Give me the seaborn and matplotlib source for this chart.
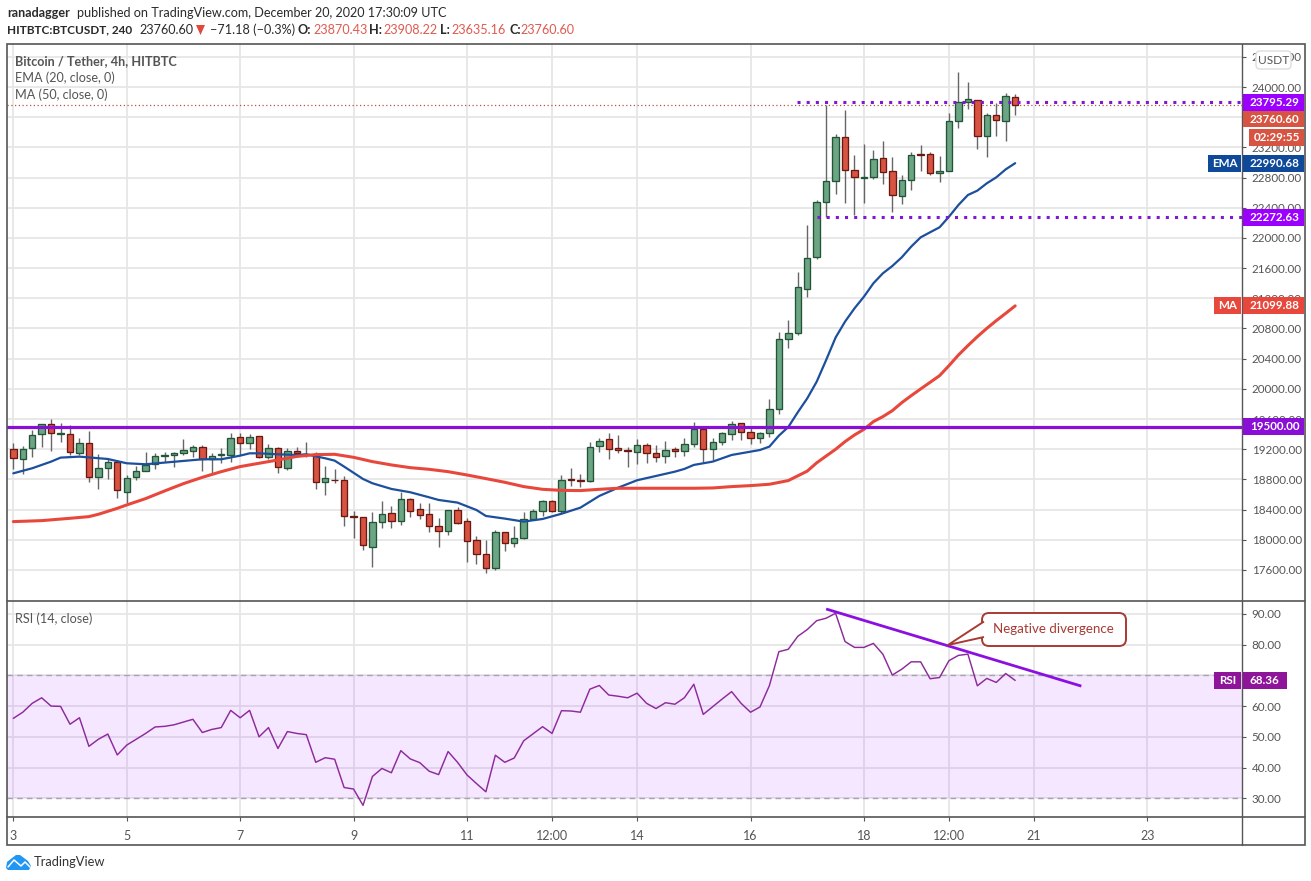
import matplotlib
matplotlib.use('Agg')
import matplotlib.pyplot as plt
from matplotlib.patches import Rectangle, FancyBboxPatch, Polygon
import pandas as pd
import seaborn as sns

# 4h candles, Dec 3 00:00 to Dec 20 16:00
opens = [19199, 19067, 19213, 19398, 19531, 19407, 19398, 19146, 19279, 18828, 18948, 19027, 18638, 18828, 18908,
         19009, 19107, 19120, 19146, 19173, 19226, 19076, 19120, 19120, 19358, 19279, 19372, 19093, 19213, 18948,
         19173, 19142, 19133, 18762, 18797, 18789, 18311, 18298, 17910, 18241, 18351, 18254, 18537, 18404, 18338,
         18179, 18122, 18395, 18245, 17993, 17808, 17631, 18100, 17963, 18029, 18272, 18378, 18510, 18387, 18802,
         18793, 18780, 19239, 19332, 19213, 19186, 19160, 19252, 19146, 19107, 19199, 19173, 19266, 19464, 19199,
         19292, 19398, 19544, 19425, 19345, 19411, 19729, 20656, 20736, 21319, 21743, 22472, 22750, 23333, 22896,
         22799, 22803, 23055, 22883, 22551, 22763, 23108, 23108, 22856, 22883, 23545, 23797, 23824, 23347, 23625,
         23545, 23870.43]
highs = [19288, 19243, 19455, 19535, 19597, 19544, 19522, 19354, 19442, 19133, 19067, 19027, 18859, 18978, 19168,
         19146, 19168, 19168, 19336, 19252, 19252, 19146, 19213, 19411, 19420, 19398, 19372, 19270, 19235, 19213,
         19235, 19292, 19160, 18978, 18934, 18846, 18382, 18298, 18369, 18515, 18448, 18630, 18550, 18484, 18488,
         18285, 18395, 18431, 18285, 18046, 17998, 18130, 18100, 18183, 18369, 18409, 18528, 18528, 18859, 18948,
         18872, 19296, 19349, 19420, 19389, 19226, 19332, 19279, 19257, 19310, 19226, 19349, 19562, 19491, 19349,
         19429, 19575, 19544, 19491, 19433, 19866, 20753, 20912, 21544, 22172, 22503, 23762, 23377, 23695, 23099,
         23245, 23165, 23285, 23068, 22834, 23139, 23232, 23139, 23086, 23660, 24195, 24066, 23832, 23651, 23784,
         23921, 23908.22]
lows = [18934, 18872, 19102, 19235, 19182, 19301, 19124, 19124, 18771, 18678, 18811, 18559, 18484, 18793, 18908,
        18934, 19036, 18970, 19124, 19093, 18917, 18872, 19014, 19036, 19124, 19204, 19080, 19071, 18890, 18930,
        19102, 19093, 18674, 18599, 18749, 18183, 18029, 17865, 17645, 18161, 18161, 18197, 18303, 18281, 18108,
        17910, 18064, 18210, 17711, 17680, 17565, 17600, 17852, 17910, 18016, 18263, 18316, 18373, 18351, 18713,
        18700, 18771, 19168, 19071, 19155, 18970, 19001, 19023, 19031, 19023, 19102, 19115, 19235, 19031, 19058,
        19252, 19327, 19323, 19274, 19279, 19366, 19671, 20546, 20718, 21222, 21717, 22282, 22582, 22468, 22304,
        22468, 22777, 22715, 22348, 22454, 22635, 22892, 22830, 22746, 22883, 23461, 23713, 23183, 23077, 23351,
        23289, 23635.16]
closes = [19080, 19199, 19385, 19531, 19411, 19416, 19160, 19279, 18828, 18948, 19027, 18656, 18815, 18908, 18996,
          19107, 19120, 19146, 19186, 19226, 19076, 19107, 19133, 19345, 19279, 19367, 19093, 19213, 18961, 19173,
          19146, 19133, 18762, 18815, 18789, 18320, 18298, 17927, 18232, 18338, 18254, 18537, 18387, 18334, 18188,
          18122, 18395, 18228, 17989, 17817, 17631, 18100, 17963, 18020, 18272, 18378, 18510, 18387, 18789, 18789,
          18775, 19226, 19305, 19199, 19186, 19173, 19252, 19146, 19093, 19186, 19173, 19266, 19464, 19199, 19292,
          19416, 19539, 19425, 19345, 19411, 19729, 20656, 20736, 21345, 21730, 22472, 22750, 23333, 22896, 22803,
          22808, 23042, 22878, 22565, 22763, 23095, 23095, 22856, 22883, 23545, 23797, 23837, 23347, 23625, 23559,
          23877, 23760.60]

ema_idx = [0, 2, 4, 5, 7, 10, 12, 14, 16, 18, 20, 22, 24, 25, 26, 28, 30, 31, 33, 34, 35, 37, 38, 40, 42, 44, 45,
           47, 49, 50, 52, 54, 56, 58, 60, 62, 64, 66, 68, 70, 71, 72, 74, 76, 78, 79, 80, 81, 82, 83, 84, 85, 86,
           87, 88, 89, 90, 91, 92, 93, 94, 95, 96, 97, 98, 99, 100, 101, 102, 103, 104, 105, 106]
ema_val = [18881, 18948, 19036, 19089, 19102, 19071, 19014, 19001, 19023, 19045, 19067, 19067, 19115, 19146, 19146,
           19133, 19124, 19133, 19080, 19049, 18970, 18806, 18749, 18674, 18630, 18563, 18528, 18493, 18395, 18316,
           18281, 18241, 18276, 18345, 18426, 18581, 18691, 18789, 18846, 18903, 18939, 18992, 19036, 19124, 19168,
           19190, 19235, 19380, 19495, 19690, 19874, 20095, 20382, 20680, 20891, 21067, 21222, 21399, 21531, 21628,
           21743, 21885, 22008, 22075, 22141, 22282, 22437, 22569, 22627, 22724, 22803, 22909, 22990.68]

ma_idx = [0, 3, 6, 8, 9, 11, 12, 14, 16, 18, 20, 22, 24, 26, 28, 30, 32, 34, 36, 38, 40, 42, 44, 46, 48, 50, 52, 54,
          56, 58, 60, 62, 64, 68, 72, 74, 76, 78, 80, 82, 84, 85, 86, 87, 88, 89, 90, 91, 92, 93, 94, 95, 96, 97, 98,
          99, 100, 101, 102, 103, 104, 105, 106]
ma_val = [18241, 18254, 18285, 18307, 18338, 18417, 18462, 18546, 18647, 18744, 18828, 18903, 18970, 19014, 19058,
          19105, 19129, 19133, 19093, 19036, 18992, 18956, 18934, 18903, 18859, 18811, 18762, 18705, 18669, 18655,
          18652, 18669, 18683, 18683, 18683, 18687, 18705, 18718, 18736, 18785, 18910, 19020, 19110, 19199, 19301,
          19389, 19464, 19566, 19632, 19711, 19817, 19910, 19999, 20087, 20175, 20308, 20449, 20573, 20692, 20802,
          20904, 21001, 21099.88]

rsi = [56.0, 58.0, 60.9, 62.7, 60.0, 59.9, 54.1, 56.2, 46.9, 49.2, 50.9, 44.1, 47.3, 49.2, 51.1, 53.2, 53.4, 53.9,
       54.8, 55.7, 51.4, 52.4, 53.0, 58.6, 56.2, 58.6, 50.0, 53.0, 46.2, 51.7, 51.1, 50.7, 41.7, 43.2, 42.7, 33.5,
       33.0, 27.7, 37.1, 39.7, 38.3, 45.5, 42.8, 41.6, 38.8, 37.7, 45.2, 41.7, 37.6, 34.8, 32.1, 44.0, 41.7, 43.1,
       48.7, 51.0, 53.3, 51.1, 58.5, 58.4, 58.0, 65.5, 66.7, 63.6, 63.2, 62.7, 64.2, 60.9, 59.2, 61.1, 60.6, 62.7,
       67.1, 57.3, 59.8, 62.3, 64.7, 60.9, 58.0, 59.7, 66.7, 77.7, 78.5, 82.7, 84.9, 87.8, 88.6, 90.2, 81.0, 79.1,
       79.1, 80.4, 76.9, 70.1, 72.0, 74.4, 74.4, 68.9, 69.3, 74.8, 76.5, 76.9, 66.6, 69.0, 67.7, 70.6, 68.36]

time_ticks = [0, 12, 24, 36, 48, 57, 66, 78, 90, 99, 108, 120]
time_labels = ['3', '5', '7', '9', '11', '12:00', '14', '16', '18', '12:00', '21', '23']
price_ticks = list(range(17600, 24401, 400))
rsi_ticks = [30, 40, 50, 60, 70, 80, 90]

support = 19500.00
level_high = 23795.29
level_low = 22272.63
trend_idx = [86, 113]
trend_rsi = [91.6, 66.5]

GREEN, GREEN_EDGE = '#6ba583', '#225437'
RED, RED_EDGE = '#d75442', '#6b1810'
TEXT = '#555555'
PURPLE = '#8a0fd6'
W, H = 1311, 881

sns.set_theme(style='white')
plt.rcParams['font.family'] = ['Lato', 'DejaVu Sans']

fig = plt.figure(figsize=(W / 100, H / 100), dpi=100)
ax = fig.add_axes([7 / W, 1 - 601 / H, 1235 / W, 557 / H])
ax2 = fig.add_axes([7 / W, 1 - 817 / H, 1235 / W, 216 / H], sharex=ax)

candles = pd.DataFrame({'o': opens, 'h': highs, 'l': lows, 'c': closes})
candles['i'] = candles.index
up = candles['c'] >= candles['o']

ax.vlines(candles['i'], candles['l'], candles['h'], color='#666666', lw=1, zorder=2)
ax.bar(candles['i'], (candles['c'] - candles['o']).abs(), bottom=candles[['o', 'c']].min(axis=1), width=0.68,
       color=[GREEN if u else RED for u in up], edgecolor=[GREEN_EDGE if u else RED_EDGE for u in up],
       linewidth=0.95, zorder=3)

ema = pd.DataFrame({'i': ema_idx, 'v': ema_val})
ma = pd.DataFrame({'i': ma_idx, 'v': ma_val})
sns.lineplot(data=ema, x='i', y='v', ax=ax, color='#1c4f9c', lw=1.6, estimator=None, zorder=4)
sns.lineplot(data=ma, x='i', y='v', ax=ax, color='#e8483c', lw=2.2, estimator=None, zorder=4)

ax.axhline(support, color=PURPLE, lw=2.3, zorder=5)
ax.axhline(closes[-1], color='#b5553f', lw=0.9, ls=(0, (1, 2)), zorder=1)
for start, level in [(82.9, level_high), (85, level_low)]:
    ax.hlines(level, start, 130, color='#7e18d6', lw=2.2, ls=(0, (1, 2)), zorder=6)

ax.set_xlim(-0.667, 130)
ax.set_ylim(17189, 24570)
ax.set_yticks(price_ticks)
ax.set_yticklabels([f'{p:.2f}' for p in price_ticks])

rsi_df = pd.DataFrame({'i': range(len(rsi)), 'v': rsi})
ax2.axhspan(30, 70, color='#9915ff', alpha=0.1, lw=0, zorder=1)
for lvl in [30, 70]:
    ax2.axhline(lvl, color='#aaa2ae', lw=1, ls=(0, (4, 3)), zorder=2)
sns.lineplot(data=rsi_df, x='i', y='v', ax=ax2, color='#8e2a9c', lw=1.05, estimator=None, zorder=4)
ax2.plot(trend_idx, trend_rsi, color='#8a0fe0', lw=2.0, zorder=5, solid_capstyle='butt')
ax2.set_ylim(23.9, 94.2)
ax2.set_yticks(rsi_ticks)
ax2.set_yticklabels([f'{r:.2f}' for r in rsi_ticks])
ax2.set_xticks(time_ticks)
ax2.set_xticklabels(time_labels)

for a in (ax, ax2):
    a.set_xlabel('')
    a.set_ylabel('')
    a.grid(True, color='#e6e6e6', lw=1.3, zorder=0)
    a.set_axisbelow(True)
    a.yaxis.tick_right()
    a.tick_params(axis='y', right=True, length=3, width=0.8, color=TEXT, labelcolor=TEXT, labelsize=8.4, pad=4)
    for s in a.spines.values():
        s.set_visible(False)
ax.tick_params(axis='x', bottom=False, labelbottom=False)
ax2.tick_params(axis='x', bottom=True, length=3, width=0.8, color=TEXT, labelcolor=TEXT, labelsize=9, pad=6)

# overlay in pixel coordinates for frame, tags and header text
ov = fig.add_axes([0, 0, 1, 1], zorder=10)
ov.set_xlim(0, W)
ov.set_ylim(H, 0)
ov.axis('off')
ov.patch.set_alpha(0)

ov.add_patch(Rectangle((6.5, 43.5), 1298, 801, fill=False, ec='#555555', lw=1.2))
ov.plot([6.5, 1304.5], [601, 601], color='#555555', lw=1.2)
ov.plot([6.5, 1304.5], [817, 817], color='#555555', lw=1.2)
ov.plot([1242, 1242], [43.5, 844.5], color='#555555', lw=1.0)


def y_px(axis, value):
    return H - axis.transData.transform((0, value))[1]


def tag(axis, value, color, label=None, x0=1243, x1=1304, shift=0):
    y = y_px(axis, value) + shift
    ov.add_patch(Rectangle((x0, y - 8.4), x1 - x0, 16.8, fc=color, ec='none', zorder=5))
    ov.text(1250, y, f'{value:.2f}', color='white', fontsize=8.4, fontweight='bold', ha='left', va='center', zorder=6)
    if label:
        wid = 33 if label == 'EMA' else 27
        ov.add_patch(Rectangle((1241 - wid, y - 8.4), wid, 16.8, fc=color, ec='none', zorder=5))
        ov.text(1241 - wid / 2, y, label, color='white', fontsize=8.4, fontweight='bold',
                ha='center', va='center', zorder=6)


tag(ax, level_high, '#9b00ff')
# last price tag sits pushed down under the level tag
tag(ax, closes[-1], RED, shift=14)
ov.add_patch(Rectangle((1249, 129), 55, 17, fc=RED, ec='none', zorder=5))
ov.text(1276.5, 137.5, '02:29:55', color='white', fontsize=8.4, fontweight='bold',
        ha='center', va='center', zorder=6)
tag(ax, ema_val[-1], '#0f4a9a', 'EMA')
tag(ax, level_low, '#9b00ff')
tag(ax, ma_val[-1], '#e8483c', 'MA')
tag(ax, support, PURPLE)
tag(ax2, rsi[-1], '#8e1599', 'RSI', x1=1287)

ov.add_patch(FancyBboxPatch((1258, 53), 31, 14, boxstyle='round,pad=2,rounding_size=4', fc='white', ec='#dddddd',
                            lw=1, zorder=7))
ov.text(1273.5, 60, 'USDT', color=TEXT, fontsize=8.6, ha='center', va='center', zorder=8)

# header
ink = '#2a2a2a'
RED_TXT = '#e05a50'
FS = 9.1
ov.text(7, 13, 'ranadagger', color=ink, fontsize=FS, fontweight='bold', va='center')
ov.text(77, 13, 'published on TradingView.com, December 20, 2020 17:30:09 UTC', color=ink, fontsize=FS, va='center')
ov.text(7, 30, 'HITBTC:BTCUSDT, 240', color=ink, fontsize=8.5, fontweight='bold', va='center')
ov.text(139.5, 30, '23760.60', color=ink, fontsize=FS, va='center')
ov.add_patch(Polygon([(196, 25), (205, 25), (200.5, 35)], fc='#e0483c', ec='none'))
ov.text(209.5, 30, '\u221271.18 (\u22120.3%)', color=ink, fontsize=FS, va='center')
for x_lab, lab, x_val, val in [(298, 'O:', 313, '23870.43'), (369.5, 'H:', 383.5, '23908.22'),
                               (440, 'L:', 451, '23635.16'), (509, 'C:', 520, '23760.60')]:
    ov.text(x_lab, 30, lab, color=ink, fontsize=FS, fontweight='bold', va='center')
    ov.text(x_val, 30, val, color=RED_TXT, fontsize=FS, va='center')

ov.text(15, 61, 'Bitcoin / Tether, 4h, HITBTC', color=TEXT, fontsize=FS, fontweight='bold', va='center')
ov.text(15, 78, 'EMA (20, close, 0)', color=TEXT, fontsize=FS, va='center')
ov.text(15, 95, 'MA (50, close, 0)', color=TEXT, fontsize=FS, va='center')
ov.text(15, 619, 'RSI (14, close)', color=TEXT, fontsize=FS, va='center')

# callout
brown = '#a83a34'
ov.add_patch(FancyBboxPatch((986, 617), 136, 25, boxstyle='round,pad=4,rounding_size=7', fc='white', ec=brown,
                            lw=1.4, zorder=6))
ov.add_patch(Polygon([(984, 621.5), (948, 645), (984, 637)], closed=False, fc='white', ec=brown, lw=1.4, zorder=7))
ov.text(1053, 629, 'Negative divergence', color=brown, fontsize=9.6, ha='center', va='center', zorder=8)

# TradingView mark
blue = '#2196f3'
ov.add_patch(Polygon([(6, 868), (7, 862), (12, 858), (16, 855), (20, 855), (24, 858), (28, 861), (31, 866),
                      (29, 870), (8, 870)], fc=blue, ec='none'))
ov.plot([8, 14, 21, 25, 30], [867, 860, 866, 862, 867], color='white', lw=1.1)
ov.text(34, 862, 'TradingView', color='#333333', fontsize=9.3, va='center')

fig.savefig('out.png', dpi=100, facecolor='white')
